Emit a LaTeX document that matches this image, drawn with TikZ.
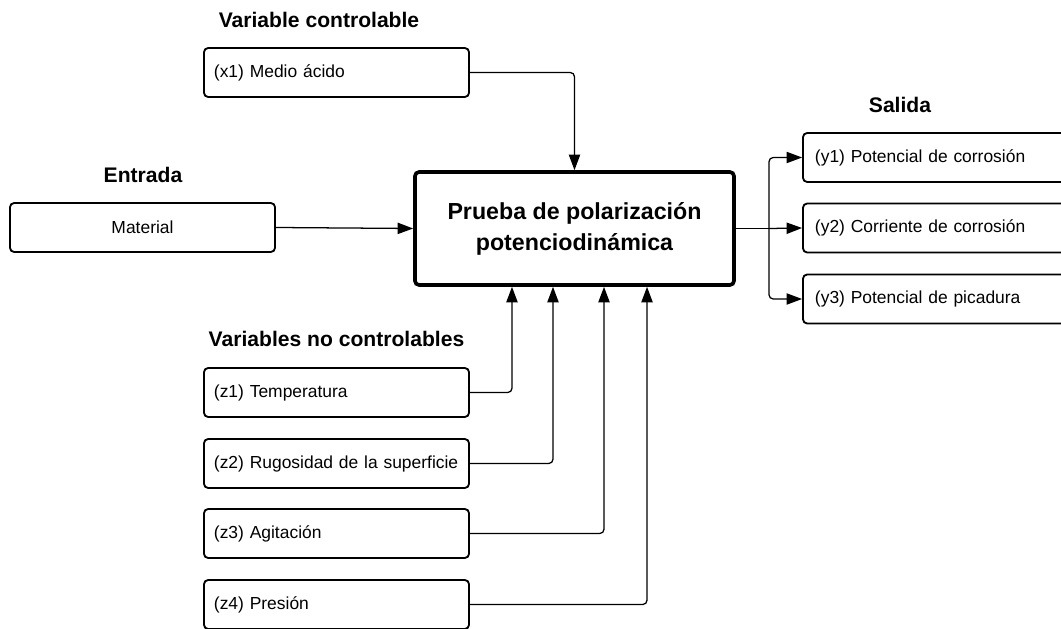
\documentclass[tikz,border=0pt]{standalone}
\usepackage{fontspec}
\setmainfont{Liberation Sans}
\usetikzlibrary{arrows.meta,positioning}

\begin{document}
\begin{tikzpicture}[x=0.025cm, y=-0.025cm,
  box/.style={draw, rounded corners=3pt, line width=1.3pt, minimum height=1.225cm,
    inner xsep=0.25cm, text width=6.125cm, align=left, font=\fontsize{12.4}{15}\selectfont},
  outbox/.style={box, inner xsep=0.3cm, text width=6.075cm},
  testbox/.style={draw, rounded corners=3pt, line width=2.6pt, minimum width=7.975cm,
    minimum height=2.825cm, align=center, font=\bfseries\fontsize{16.5}{22}\selectfont},
  head/.style={font=\bfseries\fontsize{15}{18}\selectfont},
  link/.style={line width=0.9pt, rounded corners=3pt},
  arrow/.style={link, -{Triangle[length=11pt,width=8pt]}}]
\useasboundingbox (0,0) rectangle (1061,629);
\clip (0,0) rectangle (1061,629);

% headers
\node[head] (hcontrol) at (319,20) {Variable controlable};
\node[head] (hentrada) at (143,175) {Entrada};
\node[head] (hsalida) at (900,105) {Salida};
\node[head] (hnocontrol) at (336.5,339) {Variables no controlables};

% central test
\node[testbox] (test) at (574.5,228.5) {Prueba de polarización\\potenciodinámica};

% inputs
\node[box] (x1) at (336.5,72.5) {(x1) Medio ácido};
\node[box, align=center] (material) at (142.5,227.5) {Material};

% outputs
\node[outbox] (y1) at (936.5,157.5) {(y1) Potencial de corrosión};
\node[outbox] (y2) at (936.5,228) {(y2) Corriente de corrosión};
\node[outbox] (y3) at (936.5,299) {(y3) Potencial de picadura};

% noise factors
\node[box] (z1) at (336.5,392.5) {(z1) Temperatura};
\node[box] (z2) at (336.5,463.5) {(z2) Rugosidad de la superficie};
\node[box] (z3) at (336.5,533.5) {(z3) Agitación};
\node[box] (z4) at (336.5,604.5) {(z4) Presión};

% connectors
\draw[arrow] (x1.east) -| (test.north);
\draw[arrow] (material.east) -- (test.west);
\draw[link] (test.east) -- (769,228.5) coordinate (split);
\draw[arrow] (split) |- (y1.west);
\draw[arrow] (split) -- (y2.west);
\draw[arrow] (split) |- (y3.west);
\draw[arrow] (z1.east) -| ([xshift=-1.5625cm]test.south);
\draw[arrow] (z2.east) -| ([xshift=-0.5375cm]test.south);
\draw[arrow] (z3.east) -| ([xshift=0.7375cm]test.south);
\draw[arrow] (z4.east) -| ([xshift=1.8125cm]test.south);
\end{tikzpicture}
\end{document}
